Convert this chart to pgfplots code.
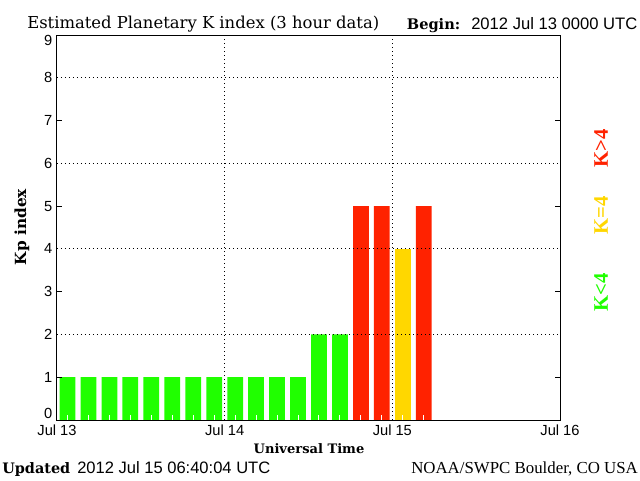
\documentclass[border=0pt]{standalone}
\usepackage{fontspec}
\setmainfont{DejaVu Serif}
\newfontfamily\sansf{Liberation Sans}
\newfontfamily\kfont{Liberation Serif}
\usepackage{graphicx}
\usepackage{pgfplots}
\pgfplotsset{compat=1.18}
\definecolor{kgreen}{RGB}{32,255,0}
\definecolor{kred}{RGB}{255,34,0}
\definecolor{kyellow}{RGB}{255,215,0}
\begin{document}
\begin{tikzpicture}
\fill[white] (0,0) rectangle (480pt,360pt);
\useasboundingbox (0,0) rectangle (480pt,360pt);
\begin{axis}[
  at={(42.75pt,45pt)}, anchor=south west, scale only axis,
  width=377.25pt, height=288.75pt,
  xmin=0, xmax=72, ymin=0, ymax=9,
  axis on top,
  axis line style={black, line width=0.75pt},
  tick align=inside,
  major tick length=3.75pt,
  ticklabel style={font=\sansf\fontsize{11}{13}\selectfont},
  grid style={black, line width=0.75pt, dash pattern=on 0.75pt off 2.25pt},
  xtick pos=bottom,
  xtick={1.5,4.5,...,70.5}, xticklabels={},
  xtick style={white, line width=0.75pt},
  extra x ticks={0,24,48,72},
  extra x tick labels={Jul 13,Jul 14,Jul 15,Jul 16},
  extra x tick style={grid=major, major tick length=0pt},
  ytick={1,3,5,7}, yticklabels={1,3,5,7},
  ytick style={black, line width=0.75pt},
  extra y ticks={0,2,4,6,8,9},
  extra y tick labels={\raisebox{5pt}[\height][\depth]{0},2,4,6,8,\raisebox{-3.75pt}[\height][\depth]{9}},
  extra y tick style={grid=major, major tick length=0pt},
]
\addplot[ybar, bar width=2.25, bar shift=0pt, fill=kgreen, draw=none] coordinates {
  (1.5,1) (4.5,1) (7.5,1) (10.5,1) (13.5,1) (16.5,1) (19.5,1) (22.5,1)
  (25.5,1) (28.5,1) (31.5,1) (34.5,1) (37.5,2) (40.5,2)};
\addplot[ybar, bar width=2.25, bar shift=0pt, fill=kred, draw=none] coordinates {
  (43.5,5) (46.5,5) (52.5,5)};
\addplot[ybar, bar width=2.25, bar shift=0pt, fill=kyellow, draw=none] coordinates {
  (49.5,4)};
\end{axis}
\node[anchor=base west, inner sep=0] at (20.25pt,339pt) {\resizebox{264pt}{!}{Estimated Planetary K index (3 hour data)}};
\node[anchor=base west, inner sep=0] at (305pt,337.9pt) {\resizebox{40pt}{!}{\bfseries Begin:}};
\node[anchor=base west, inner sep=0] at (353.25pt,337.9pt) {\resizebox{124.5pt}{!}{\sansf 2012 Jul 13 0000 UTC}};
\node[rotate=90, inner sep=0] at (16.5pt,189.75pt) {\resizebox{57pt}{!}{\bfseries Kp index}};
\node[anchor=base, inner sep=0] at (231.75pt,20.25pt) {\resizebox{83pt}{!}{\bfseries Universal Time}};
\node[anchor=base west, inner sep=0] at (1.5pt,5.25pt) {\resizebox{51pt}{!}{\bfseries Updated}};
\node[anchor=base west, inner sep=0] at (57.75pt,5.25pt) {\resizebox{144.75pt}{!}{\sansf 2012 Jul 15 06:40:04 UTC}};
\node[anchor=base west, inner sep=0] at (308.25pt,5.25pt) {\resizebox{170pt}{!}{\kfont NOAA/SWPC Boulder, CO USA}};
\node[rotate=90, inner sep=0, text=kred] at (450.75pt,249pt) {\kfont\bfseries\fontsize{15.5}{18}\selectfont K>4};
\node[rotate=90, inner sep=0, text=kyellow] at (450.75pt,198.75pt) {\kfont\bfseries\fontsize{15.5}{18}\selectfont K=4};
\node[rotate=90, inner sep=0, text=kgreen] at (450.75pt,141pt) {\kfont\bfseries\fontsize{15.5}{18}\selectfont K<4};
\end{tikzpicture}
\end{document}
